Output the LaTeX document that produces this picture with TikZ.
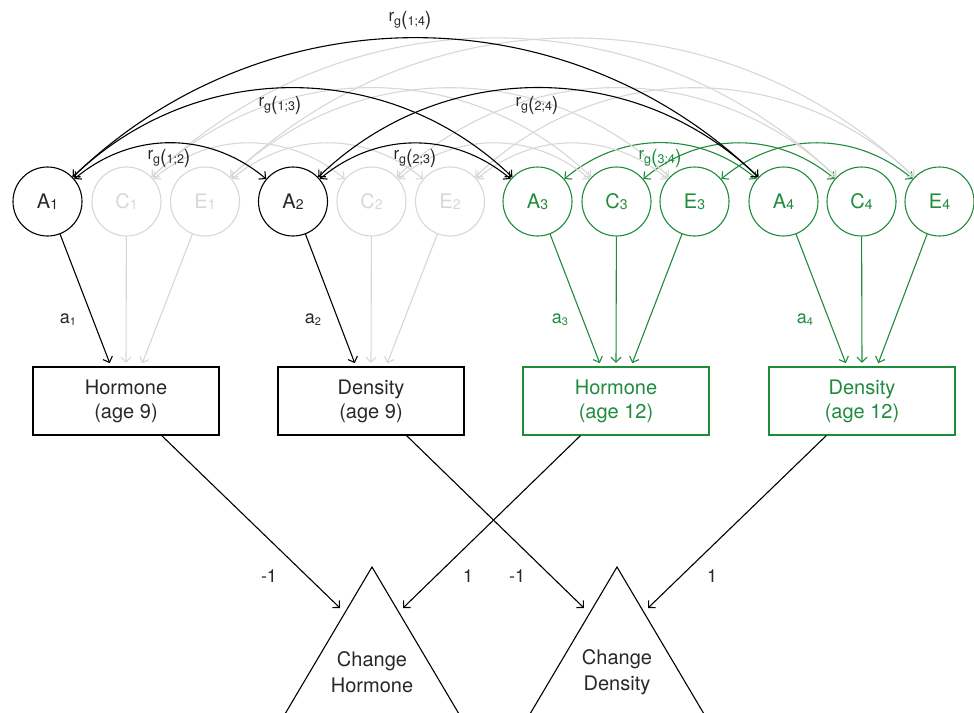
\documentclass[tikz,border=0pt]{standalone}
\usepackage{fontspec}
\setmainfont{TeX Gyre Heros}
\usetikzlibrary{arrows.meta,calc}
\definecolor{grn}{RGB}{30,140,60}
\definecolor{lgr}{RGB}{215,215,215}
\definecolor{txt}{RGB}{40,40,40}
\newcommand\fs[2]{{\fontsize{#1}{#1}\selectfont #2}}
\newcommand\nlab[2]{\fs{20}{#1\raisebox{-1pt}{\fs{14}{#2}}}}
\newcommand\alab[1]{\fs{18}{a\raisebox{-2pt}{\fs{11}{#1}}}}
\newcommand\rlab[1]{\fs{17}{r}\raisebox{-3.5pt}{\fs{12.5}{g}\fs{19.5}{(}\fs{12.5}{#1}\fs{19.5}{)}}}
\begin{document}
\begin{tikzpicture}[x=1pt,y=-1pt,line width=1.1pt,
  lat/.style={circle,draw,minimum size=69pt,inner sep=0pt},
  obs/.style={rectangle,draw,minimum width=186pt,minimum height=68pt,inner sep=0pt,align=center,font=\fontsize{20}{24}\selectfont},
  blk/.style={draw=black,text=txt},
  gry/.style={draw=lgr,text=lgr},
  gre/.style={draw=grn,text=grn},
  arr/.style={-{Straight Barb[length=5pt,width=10pt]}},
  cov/.style={{Straight Barb[length=5pt,width=10pt]}-{Straight Barb[length=5pt,width=10pt]}},
  lab/.style={inner sep=0pt}]
\useasboundingbox (0,0) rectangle (974,712);
% latent variables
\node[lat,blk] (A1) at (47.5,201.5) {\nlab{A}{1}};
\node[lat,gry] (C1) at (126.5,201.5) {\nlab{C}{1}};
\node[lat,gry] (E1) at (205,201.5) {\nlab{E}{1}};
\node[lat,blk] (A2) at (293,201.5) {\nlab{A}{2}};
\node[lat,gry] (C2) at (371.5,201.5) {\nlab{C}{2}};
\node[lat,gry] (E2) at (450,201.5) {\nlab{E}{2}};
\node[lat,gre] (A3) at (537.5,201.5) {\nlab{A}{3}};
\node[lat,gre] (C3) at (616.5,201.5) {\nlab{C}{3}};
\node[lat,gre] (E3) at (694.5,201.5) {\nlab{E}{3}};
\node[lat,gre] (A4) at (783.5,201.5) {\nlab{A}{4}};
\node[lat,gre] (C4) at (861.5,201.5) {\nlab{C}{4}};
\node[lat,gre] (E4) at (939.5,201.5) {\nlab{E}{4}};
% observed
\node[obs,blk] (h9) at (126,401) {Hormone\\(age 9)};
\node[obs,blk] (d9) at (371,401) {Density\\(age 9)};
\node[obs,gre] (h12) at (616,401) {Hormone\\(age 12)};
\node[obs,gre] (d12) at (862,401) {Density\\(age 12)};
% triangles
\draw (372,567) -- (224,817) -- (520,817) -- cycle;
\draw (617,567) -- (469,817) -- (765,817) -- cycle;
\node[align=center,text=txt,font=\fontsize{20}{26}\selectfont] (ch) at (372,672) {Change\\Hormone};
\node[align=center,text=txt,font=\fontsize{20}{26}\selectfont] (cd) at (617,672) {Change\\Density};
\coordinate (chL) at (340,608);
\coordinate (chR) at (403,608);
\coordinate (cdL) at (584,608);
\coordinate (cdR) at (648,608);
% loadings
\draw[arr,lgr,shorten >=3.5pt] (C1) -- (h9.north);
\draw[arr,lgr,shorten >=3.5pt] (E1) -- ([xshift=15pt]h9.north);
\draw[arr,black,shorten >=3.5pt] (A1) -- ([xshift=-15pt]h9.north);
\draw[arr,lgr,shorten >=3.5pt] (C2) -- (d9.north);
\draw[arr,lgr,shorten >=3.5pt] (E2) -- ([xshift=15pt]d9.north);
\draw[arr,black,shorten >=3.5pt] (A2) -- ([xshift=-15pt]d9.north);
\draw[arr,grn,shorten >=3.5pt] (A3) -- ([xshift=-15pt]h12.north);
\draw[arr,grn,shorten >=3.5pt] (C3) -- (h12.north);
\draw[arr,grn,shorten >=3.5pt] (E3) -- ([xshift=15pt]h12.north);
\draw[arr,grn,shorten >=3.5pt] (A4) -- ([xshift=-15pt]d12.north);
\draw[arr,grn,shorten >=3.5pt] (C4) -- (d12.north);
\draw[arr,grn,shorten >=3.5pt] (E4) -- ([xshift=15pt]d12.north);
\node[lab,text=txt] (la1) at (68,320) {\alab{1}};
\node[lab,text=txt] (la2) at (313,320) {\alab{2}};
\node[lab,text=grn] (la3) at (560,320) {\alab{3}};
\node[lab,text=grn] (la4) at (805,320) {\alab{4}};
% change scores
\draw[arr] (h9) -- (chL);
\draw[arr] (h12) -- (chR);
\draw[arr] (d9) -- (cdL);
\draw[arr] (d12) -- (cdR);
\node[lab,text=txt,font=\fontsize{18}{18}\selectfont] (w1) at (269,576) {-1};
\node[lab,text=txt,font=\fontsize{18}{18}\selectfont] (w2) at (468,576) {1};
\node[lab,text=txt,font=\fontsize{18}{18}\selectfont] (w3) at (517,576) {-1};
\node[lab,text=txt,font=\fontsize{18}{18}\selectfont] (w4) at (712,576) {1};
% covariances: green
\draw[cov,grn] (A3) to[bend left=40] (A4);
\draw[cov,grn] (C3) to[bend left=40] (C4);
\draw[cov,grn] (E3) to[bend left=40] (E4);
% covariances: gray
\draw[cov,lgr] (C1) to[bend left=40] (C2);
\draw[cov,lgr] (E1) to[bend left=40] (E2);
\draw[cov,lgr] (C2) to[bend left=40] (C3);
\draw[cov,lgr] (E2) to[bend left=40] (E3);
\draw[cov,lgr] (C1) to[bend left=44] (C3);
\draw[cov,lgr] (E1) to[bend left=44] (E3);
\draw[cov,lgr] (C2) to[bend left=44] (C4);
\draw[cov,lgr] (E2) to[bend left=44] (E4);
\draw[cov,lgr] (C1) to[bend left=44] (C4);
\draw[cov,lgr] (E1) to[bend left=44] (E4);
% covariances: black
\draw[cov,black] (A1) to[bend left=40] (A2);
\draw[cov,black] (A2) to[bend left=40] (A3);
\draw[cov,black] (A1) to[bend left=44] (A3);
\draw[cov,black] (A2) to[bend left=44] (A4);
\draw[cov,black] (A1) to[bend left=44] (A4);
% labels
\node[lab,text=txt] (r12) at (169,158) {\rlab{1;2}};
\node[lab,text=txt] (r13) at (280,105) {\rlab{1;3}};
\node[lab,text=txt] (r14) at (410,20) {\rlab{1;4}};
\node[lab,text=txt] (r23) at (415,158) {\rlab{2;3}};
\node[lab,text=txt] (r24) at (537,105) {\rlab{2;4}};
\node[lab,text=grn] (r34) at (660,158) {\rlab{3;4}};
\end{tikzpicture}
\end{document}
